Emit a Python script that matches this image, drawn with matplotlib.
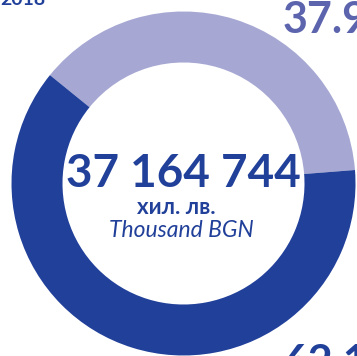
import matplotlib
matplotlib.use("Agg")
import matplotlib.pyplot as plt

# Budget split (per cent) and the total shown in the middle of the ring
shares = [37.9, 62.1]
share_labels = ["37.9%", "62.1%"]
colors = ["#a6a8d3", "#21409a"]
total_label = "37 164 744"
unit_bg = "хил. лв."
unit_en = "Thousand BGN"
year_label = "2018"

FONT = ["Lato", "DejaVu Sans"]
DARK = "#21409a"
MID = "#5c64ad"

W, H = 357, 356
fig = plt.figure(figsize=(W / 100, H / 100), dpi=100)
ax = fig.add_axes([0, 0, 1, 1])

cx, cy = 183.5, H - 183.5
ax.pie(shares, colors=colors, startangle=4.5, counterclock=True,
       center=(cx, cy), radius=172,
       wedgeprops=dict(width=51, linewidth=0), frame=True)
ax.set_xlim(0, W)
ax.set_ylim(0, H)
ax.set_aspect("equal")
ax.axis("off")

# Centre text
ax.text(183, H - 187, total_label, ha="center", va="baseline",
        fontsize=33, fontweight="bold", color=DARK, family=FONT)
ax.text(176, H - 214, unit_bg, ha="center", va="baseline",
        fontsize=16, fontweight="bold", color=DARK, family=FONT)
ax.text(181, H - 237, unit_en, ha="center", va="baseline",
        fontsize=16.5, style="italic", color=DARK, family=FONT)

# Segment labels, partly running off the edge
ax.text(283, H - 33, share_labels[0], ha="left", va="baseline",
        fontsize=31, fontweight="bold", color=MID, family=FONT, clip_on=False)
ax.text(283, H - 376, share_labels[1], ha="left", va="baseline",
        fontsize=31, fontweight="bold", color=DARK, family=FONT, clip_on=False)
ax.text(0, H - 5, year_label, ha="left", va="baseline",
        fontsize=14, fontweight="bold", color=DARK, family=FONT, clip_on=False)

fig.savefig("out.png", dpi=100, facecolor="white")
